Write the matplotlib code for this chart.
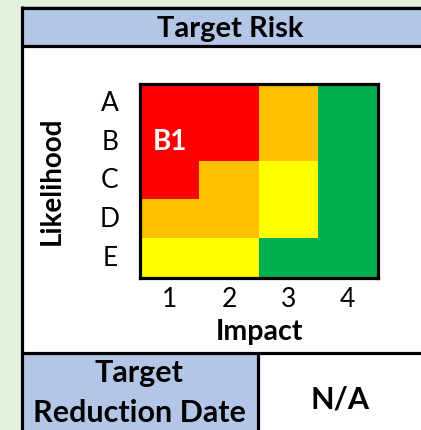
import matplotlib
matplotlib.use("Agg")
import matplotlib.pyplot as plt
from matplotlib.colors import ListedColormap
from matplotlib.patches import Rectangle
import numpy as np

# ---- data ----
likelihood = ["A", "B", "C", "D", "E"]
impact = ["1", "2", "3", "4"]
# risk level per cell: 0=green, 1=yellow, 2=amber, 3=red
risk_A = [3, 3, 2, 0]
risk_B = [3, 3, 2, 0]
risk_C = [3, 2, 1, 0]
risk_D = [2, 2, 1, 0]
risk_E = [1, 1, 0, 0]
marker_label = "B1"
marker_row = "B"
marker_col = "1"
title = "Target Risk"
date_label_lines = ["Target", "Reduction Date"]
date_value = "N/A"
x_title = "Impact"
y_title = "Likelihood"

level_colors = ["#00B050", "#FFFF00", "#FFC000", "#FF0000"]
FONT = ["Lato", "DejaVu Sans"]
plt.rcParams["font.family"] = FONT

W, H = 421, 430
fig = plt.figure(figsize=(W / 100, H / 100), dpi=100)
fig.patch.set_facecolor("#E2EFDA")

bg = fig.add_axes([0, 0, 1, 1])
bg.set_xlim(0, W)
bg.set_ylim(H, 0)
bg.axis("off")

# panels
bg.add_patch(Rectangle((21, 6), W - 21, H - 6, facecolor="white", edgecolor="none"))
bg.add_patch(Rectangle((21, 6), W - 21, 40, facecolor="#B4C6E7", edgecolor="none"))
bg.add_patch(Rectangle((21, 352), 236, H - 352, facecolor="#B4C6E7", edgecolor="none"))
lw = 2.3
bg.plot([21.5, 21.5], [6, H], color="black", lw=lw, solid_capstyle="butt")
bg.plot([21, W], [7.5, 7.5], color="black", lw=lw, solid_capstyle="butt")
bg.plot([21, W], [45.5, 45.5], color="black", lw=lw, solid_capstyle="butt")
bg.plot([21, W], [353, 353], color="black", lw=lw, solid_capstyle="butt")
bg.plot([257.5, 257.5], [353, H], color="black", lw=lw, solid_capstyle="butt")

bg.text(230, 37.5, title, ha="center", va="baseline", fontsize=21, fontweight="bold")
bg.text(139, 382, date_label_lines[0], ha="center", va="baseline", fontsize=22,
        fontweight="bold")
bg.text(139, 422, date_label_lines[1], ha="center", va="baseline", fontsize=22,
        fontweight="bold")
bg.text(340, 408, date_value, ha="center", va="baseline", fontsize=22, fontweight="bold")
bg.text(259, 340, x_title, ha="center", va="baseline", fontsize=20.5, fontweight="bold")
bg.text(52, 181, y_title, ha="center", va="center", rotation=90, fontsize=20,
        fontweight="bold")

# heat map
grid = np.array([risk_A, risk_B, risk_C, risk_D, risk_E])
left, right, top, bottom = 140, 377.5, 84, 277.5
ax = fig.add_axes([left / W, 1 - bottom / H, (right - left) / W, (bottom - top) / H])
ax.imshow(grid, cmap=ListedColormap(level_colors), vmin=0, vmax=3,
          aspect="auto", interpolation="nearest")
ax.set_xticks(range(len(impact)))
ax.set_xticklabels(impact, fontsize=19)
ax.set_yticks(range(len(likelihood)))
ax.set_yticklabels(likelihood, fontsize=19, ha="center", va="center")
ax.tick_params(length=0)
ax.tick_params(axis="x", pad=7)
ax.tick_params(axis="y", pad=21.6)
for s in ax.spines.values():
    s.set_linewidth(2.3)
    s.set_color("black")

ri = likelihood.index(marker_row)
ci = impact.index(marker_col)
ax.text(ci, ri, marker_label, ha="center", va="center", color="white",
        fontsize=20, fontweight="bold")

fig.savefig("out.png", dpi=100, facecolor=fig.get_facecolor())
